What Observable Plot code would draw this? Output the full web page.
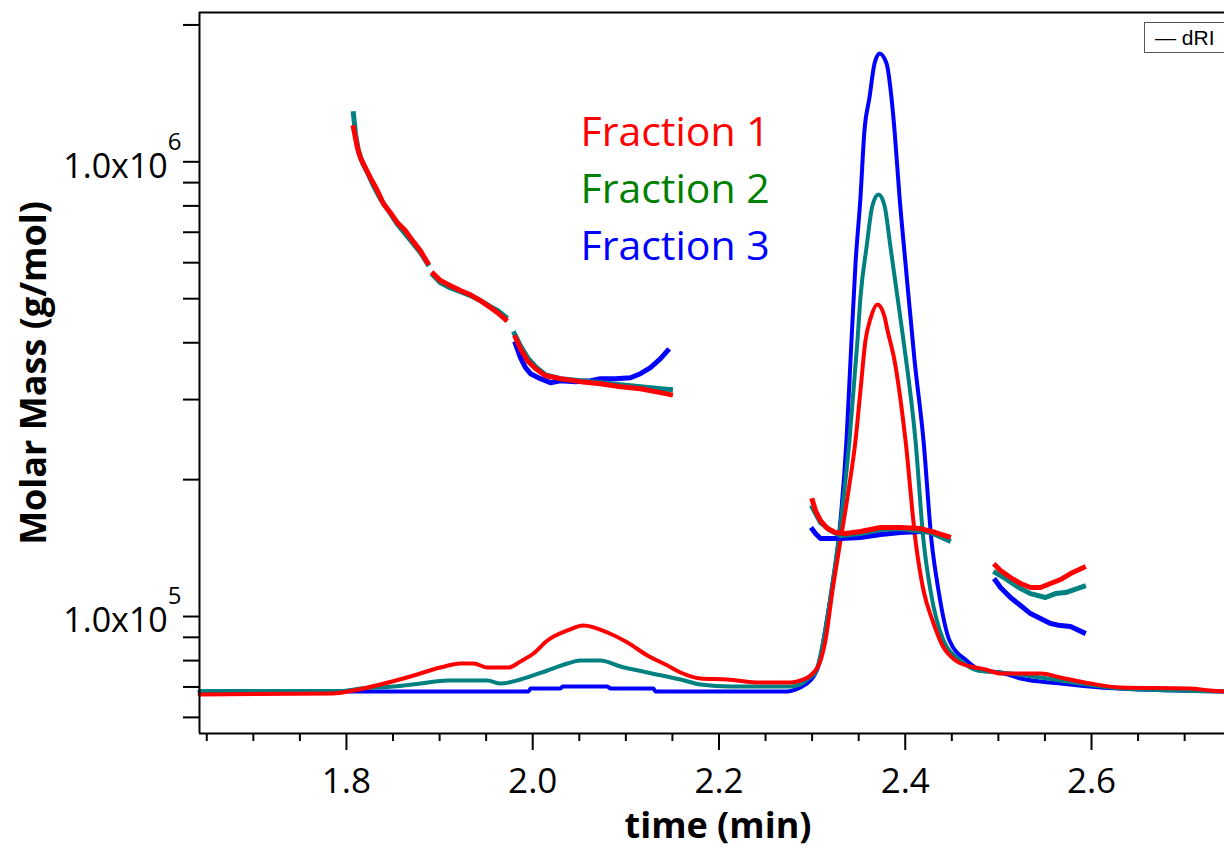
<!DOCTYPE html>
<html><head><meta charset="utf-8">
<script src="https://cdn.jsdelivr.net/npm/d3@7"></script>
<script src="https://cdn.jsdelivr.net/npm/@observablehq/plot@0.6"></script>
<style>
body{margin:0;background:#fff;}
#wrap{position:relative;width:1224px;height:850px;overflow:hidden;}
#dri{position:absolute;left:1144px;top:22px;width:100px;height:31px;border:1px solid #555;box-sizing:border-box;font:21px "Liberation Sans",Arial,sans-serif;line-height:29px;padding-left:10px;white-space:nowrap;background:#fff;color:#000;}
</style></head><body><div id="wrap"><div id="dri">— dRI</div></div>
<script>
// ---- axes ----
const xDomain = [1.6422, 2.7428];          // time (min)
const yDomain = [5.53e4, 2.13e6];          // molar mass (g/mol), log
const xMajorTicks = [1.8, 2.0, 2.2, 2.4, 2.6];
const xMinorTicks = [1.65,1.70,1.75,1.85,1.90,1.95,2.05,2.10,2.15,2.25,2.30,2.35,2.45,2.50,2.55,2.65,2.70];
const yTicks = [6e4,7e4,8e4,9e4,1e5,2e5,3e5,4e5,5e5,6e5,7e5,8e5,9e5,1e6,2e6];
const yLabelTicks = [1e5, 1e6];
const dRIRange = [0, 100];                 // relative dRI signal spanning plot height

const fractions = ["Fraction 1", "Fraction 2", "Fraction 3"];

// ---- molar mass traces: segments of [time, molar mass] ----
const mmF1 = [
  [[1.8075,1.188e6],[1.8118,1.073e6],[1.815,1.020e6],[1.8204,9.70e5],[1.8258,9.22e5],[1.8333,8.64e5],[1.8397,8.09e5],[1.8472,7.73e5],[1.8548,7.34e5],[1.8634,7.05e5],[1.8709,6.71e5],[1.8795,6.37e5],[1.887,6.00e5]],
  [[1.8934,5.67e5],[1.9009,5.48e5],[1.9117,5.34e5],[1.9224,5.21e5],[1.9332,5.10e5],[1.9439,4.95e5],[1.9547,4.78e5],[1.9622,4.66e5],[1.9707,4.50e5]],
  [[1.9815,4.105e5],[1.9868,3.88e5],[1.9944,3.65e5],[2.003,3.51e5],[2.0137,3.385e5],[2.0298,3.335e5],[2.0513,3.285e5],[2.0727,3.25e5],[2.0942,3.20e5],[2.1157,3.17e5],[2.1372,3.107e5],[2.1479,3.076e5]],
  [[2.3004,1.798e5],[2.3036,1.710e5],[2.309,1.626e5],[2.3165,1.561e5],[2.3251,1.530e5],[2.3358,1.522e5],[2.3519,1.538e5],[2.3734,1.569e5],[2.3949,1.569e5],[2.4164,1.561e5],[2.4325,1.530e5],[2.4464,1.499e5]],
  [[2.4969,1.295e5],[2.5023,1.262e5],[2.513,1.218e5],[2.5238,1.182e5],[2.5345,1.158e5],[2.5452,1.158e5],[2.556,1.182e5],[2.5667,1.206e5],[2.5775,1.243e5],[2.5914,1.282e5]]
];
const mmF2 = [
  [[1.8075,1.275e6],[1.8097,1.152e6],[1.8129,1.057e6],[1.8172,9.95e5],[1.8226,9.46e5],[1.829,8.86e5],[1.8365,8.29e5],[1.8451,7.81e5],[1.8537,7.34e5],[1.8623,6.98e5],[1.8709,6.64e5],[1.8795,6.31e5],[1.887,5.97e5]],
  [[1.8934,5.62e5],[1.9009,5.42e5],[1.9117,5.28e5],[1.9224,5.18e5],[1.9332,5.08e5],[1.9439,4.95e5],[1.9547,4.80e5],[1.9622,4.71e5],[1.9707,4.56e5]],
  [[1.9804,4.19e5],[1.9868,3.94e5],[1.9944,3.71e5],[2.003,3.544e5],[2.0137,3.40e5],[2.0298,3.335e5],[2.0513,3.30e5],[2.0727,3.268e5],[2.0942,3.235e5],[2.1157,3.20e5],[2.1372,3.17e5],[2.1479,3.155e5]],
  [[2.3004,1.736e5],[2.309,1.610e5],[2.3197,1.545e5],[2.3305,1.507e5],[2.3519,1.522e5],[2.3734,1.553e5],[2.3949,1.561e5],[2.4271,1.530e5],[2.4464,1.469e5]],
  [[2.4969,1.249e5],[2.5077,1.212e5],[2.5238,1.152e5],[2.5345,1.123e5],[2.5506,1.101e5],[2.5613,1.123e5],[2.5721,1.129e5],[2.5914,1.164e5]]
];
const mmF3 = [
  [[1.9815,3.98e5],[1.9868,3.71e5],[1.9922,3.527e5],[1.9976,3.42e5],[2.0083,3.335e5],[2.019,3.268e5],[2.0298,3.30e5],[2.0459,3.285e5],[2.062,3.30e5],[2.0727,3.335e5],[2.0888,3.335e5],[2.105,3.35e5],[2.1157,3.42e5],[2.1264,3.527e5],[2.1372,3.69e5],[2.1447,3.84e5]],
  [[2.3004,1.553e5],[2.3036,1.522e5],[2.309,1.484e5],[2.3305,1.484e5],[2.3519,1.492e5],[2.3734,1.515e5],[2.3949,1.530e5],[2.4164,1.538e5]],
  [[2.4969,1.200e5],[2.5023,1.158e5],[2.513,1.101e5],[2.5238,1.057e5],[2.5345,1.015e5],[2.5452,9.90e4],[2.556,9.65e4],[2.5667,9.55e4],[2.5775,9.51e4],[2.5914,9.22e4]]
];

// ---- dRI traces: [time, relative signal] ----
const driF1 = [[1.6422,5.41],[1.785,5.55],[1.8075,5.96],[1.8365,6.80],[1.8687,7.91],[1.9009,9.15],[1.9224,9.71],[1.9364,9.71],[1.9514,9.15],[1.974,9.15],[1.9868,9.99],[2.0008,11.10],[2.0158,12.90],[2.0373,14.29],[2.0545,14.98],[2.0803,14.01],[2.1017,12.62],[2.1232,10.82],[2.1447,9.43],[2.1587,8.46],[2.1801,7.63],[2.2091,7.49],[2.2446,7.07],[2.2768,7.07],[2.2875,7.35],[2.2982,8.04],[2.309,10.12],[2.3143,12.90],[2.3219,19.83],[2.3305,26.77],[2.3391,33.70],[2.3466,40.64],[2.3519,47.57],[2.3573,54.51],[2.3627,57.56],[2.3702,59.50],[2.3777,57.84],[2.381,55.89],[2.3885,51.73],[2.4003,40.64],[2.411,26.77],[2.4196,19.83],[2.4293,15.67],[2.4400,12.20],[2.454,10.12],[2.4701,9.29],[2.4862,8.88],[2.5023,8.32],[2.5184,8.32],[2.5452,8.32],[2.5667,7.77],[2.5989,6.93],[2.6311,6.38],[2.7063,6.24],[2.7278,5.96],[2.7428,5.83]];
const driF2 = [[1.6422,5.89],[1.7936,5.89],[1.815,6.24],[1.8505,6.52],[1.8795,6.93],[1.9085,7.35],[1.9514,7.35],[1.9654,6.93],[1.9868,7.49],[2.0158,8.74],[2.0373,9.71],[2.0513,10.12],[2.0727,10.12],[2.0942,9.29],[2.1232,8.46],[2.1587,7.49],[2.1801,6.80],[2.2124,6.52],[2.2768,6.52],[2.2875,6.80],[2.2961,7.63],[2.3036,8.46],[2.3122,12.90],[2.3208,19.83],[2.3283,26.77],[2.3401,40.64],[2.3487,54.51],[2.3519,60.47],[2.3584,67.41],[2.3648,73.23],[2.3713,74.76],[2.3777,73.23],[2.3842,67.41],[2.3917,60.47],[2.3981,54.51],[2.411,40.64],[2.4196,26.77],[2.4271,19.83],[2.4411,12.90],[2.4594,10.12],[2.4776,8.74],[2.5023,8.46],[2.5452,7.77],[2.5882,6.93],[2.6311,6.24],[2.7428,5.83]];
const driF3 = [[1.6422,5.83],[1.9954,5.83],[1.9976,6.24],[2.0298,6.24],[2.032,6.52],[2.0803,6.52],[2.0835,6.24],[2.1297,6.24],[2.1318,5.83],[2.2736,5.83],[2.2822,6.10],[2.2929,6.80],[2.3015,7.91],[2.3079,9.85],[2.3122,12.90],[2.3208,19.83],[2.3283,26.77],[2.3369,40.64],[2.3412,51.73],[2.3466,65.19],[2.3519,74.34],[2.3562,83.63],[2.3616,88.21],[2.367,92.93],[2.3724,94.31],[2.3799,92.93],[2.3852,88.21],[2.3885,83.63],[2.3939,74.34],[2.4003,65.19],[2.41,51.73],[2.4196,40.64],[2.4282,26.77],[2.4357,19.83],[2.4475,12.90],[2.4658,10.12],[2.4819,8.74],[2.5023,8.46],[2.5238,7.63],[2.5667,6.93],[2.6097,6.38],[2.6526,6.10],[2.7428,5.83]];

const traceColors = ["#ff0000", "#008080", "#0000ff"];
const labelColors = ["#ff0000", "#008000", "#0000ff"];

// map the dRI signal onto the log molar-mass scale (secondary linear axis emulation)
const lo = Math.log10(yDomain[0]), hi = Math.log10(yDomain[1]);
const toM = v => Math.pow(10, lo + (v - dRIRange[0]) / (dRIRange[1] - dRIRange[0]) * (hi - lo));

const driSets = [driF1, driF2, driF3];
const mmSets = [mmF1, mmF2, mmF3];
const driData = i => driSets[i].map(([t, v]) => ({t, M: toM(v)}));
const mmData = i => mmSets[i].flatMap((seg, s) => seg.map(([t, M]) => ({t, M, seg: s})));

const order = [2, 1, 0];
const fmtY = d => { const e = Math.round(Math.log10(d)); return "1.0x10^" + e; };

const plot = Plot.plot({
  width: 1224, height: 850,
  marginLeft: 199, marginRight: 0, marginTop: 12, marginBottom: 117,
  style: {fontFamily: '"Open Sans", sans-serif', fontSize: "34px", color: "black", background: "white"},
  x: {domain: xDomain},
  y: {type: "log", domain: yDomain},
  marks: [
    ...order.map(i => Plot.line(driData(i), {x: "t", y: "M", stroke: traceColors[i], strokeWidth: 4, curve: "monotone-x"})),
    ...order.map(i => Plot.line(mmData(i), {x: "t", y: "M", z: "seg", stroke: traceColors[i], strokeWidth: 5, strokeLinecap: "square"})),
    Plot.axisX(xMinorTicks, {tickSize: 8, strokeWidth: 2, tickFormat: () => "", label: null}),
    Plot.axisX(xMajorTicks, {tickSize: 17, tickPadding: 18, strokeWidth: 2, tickFormat: d3.format(".1f"), fontSize: 35, label: null}),
    Plot.axisY(yTicks, {tickSize: 16, strokeWidth: 2, tickFormat: () => "", label: null}),
    Plot.axisY(yLabelTicks, {tickSize: 0, tickPadding: 18, dy: 5, fontSize: 34, tickFormat: fmtY, label: null}),
    Plot.ruleY([yDomain[1]], {stroke: "black", strokeWidth: 2}),
    Plot.ruleY([yDomain[0]], {stroke: "black", strokeWidth: 2}),
    Plot.ruleX([xDomain[0]], {stroke: "black", strokeWidth: 2}),
    ...fractions.map((f, i) => Plot.text([f], {frameAnchor: "top-left", textAnchor: "start", lineAnchor: "middle", dx: 381, dy: 120 + i * 57, fill: labelColors[i], fontSize: 41, fontFamily: '"Open Sans", sans-serif'})),
    Plot.text(["Molar Mass (g/mol)"], {frameAnchor: "left", textAnchor: "middle", lineAnchor: "middle", rotate: -90, dx: -165, fontSize: 36, fontWeight: "bold"}),
    Plot.text(["time (min)"], {frameAnchor: "bottom", textAnchor: "middle", lineAnchor: "middle", dx: 6, dy: 93, fontSize: 36, fontWeight: "bold"})
  ]
});

// superscript exponents in y tick labels
plot.querySelectorAll("text").forEach(t => {
  const m = /^1\.0x10\^(\d)$/.exec(t.textContent);
  if (m) {
    t.textContent = "1.0x10";
    const sup = document.createElementNS("http://www.w3.org/2000/svg", "tspan");
    sup.setAttribute("dy", "-28");
    sup.setAttribute("font-size", "24");
    sup.textContent = m[1];
    t.appendChild(sup);
  }
});
document.getElementById("wrap").prepend(plot);
</script></body></html>
